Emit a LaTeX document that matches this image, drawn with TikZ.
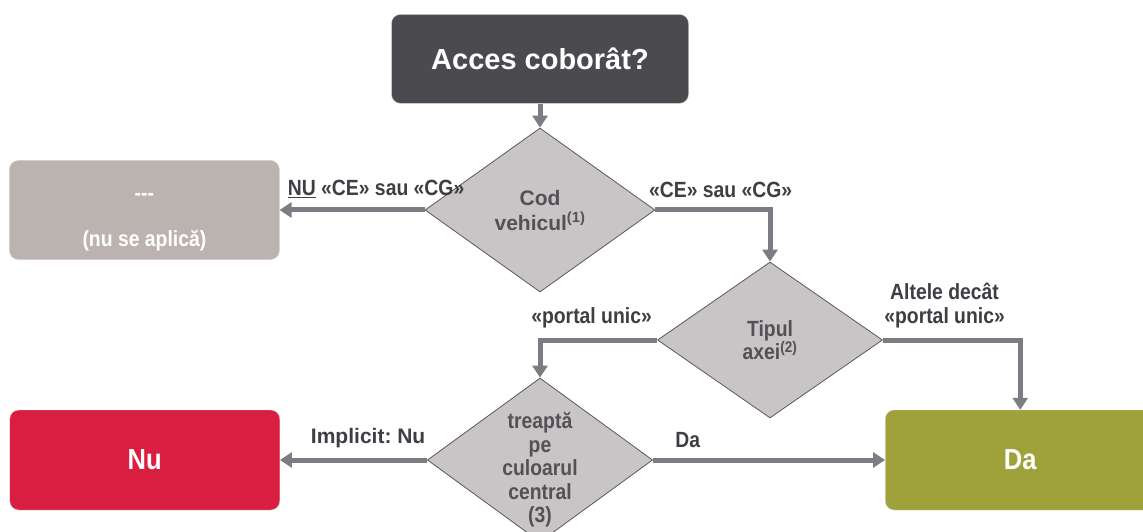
\documentclass[tikz,border=0pt]{standalone}
\usepackage{fontspec}
\setmainfont{Liberation Sans}
\newfontfamily\narrowfont{Liberation Sans}[FakeStretch=0.88]
\usetikzlibrary{shapes.geometric, arrows.meta, positioning}
\definecolor{titlegray}{HTML}{4B4A4F}
\definecolor{skipgray}{HTML}{BBB3AF}
\definecolor{diamondgray}{HTML}{C9C5C6}
\definecolor{nored}{HTML}{D91E41}
\definecolor{daolive}{HTML}{9FA23B}
\definecolor{arrowgray}{HTML}{7C7C82}
\definecolor{textgray}{HTML}{3E3E44}
\definecolor{diamondtext}{HTML}{515156}
\frenchspacing

\begin{document}
\begin{tikzpicture}[
    x=1pt, y=1pt,
    endbox/.style={draw=black!18, rounded corners=9pt, minimum width=270pt, minimum height=100pt, text=white, align=center},
    decision/.style={diamond, draw=black!65, line width=0.8pt, fill=diamondgray, inner sep=-8pt, aspect=1.4, minimum width=225pt, minimum height=160pt, align=center, text=diamondtext, font=\narrowfont\bfseries\fontsize{22}{23.5}\selectfont},
    arr/.style={draw=arrowgray, line width=5pt, -{Triangle[length=12pt, width=15pt]}},
    lbl/.style={text=textgray, font=\narrowfont\bfseries\fontsize{22}{24}\selectfont, align=center},
]
\useasboundingbox (0,0) rectangle (1143,531);

% Decisions
\node[decision, minimum width=230pt, minimum height=164pt, font=\bfseries\fontsize{21}{25}\selectfont] (cod) at (540,321) {Cod\\vehicul\textsuperscript{(1)}};
\node[decision, minimum height=156pt] (tip) at (770,191) {Tipul\\axei\textsuperscript{(2)}};
\node[decision, minimum height=164pt] (trep) at (540,71) {\rule{0pt}{36pt}treaptă\\pe\\culoarul\\central\\(3)};

% Boxes
\node[endbox, fill=titlegray, minimum width=297pt, minimum height=89pt, font=\bfseries\fontsize{29}{34}\selectfont, above=24pt of cod] (top) {Acces coborât?};
\node[endbox, fill=skipgray, minimum height=99pt, font=\narrowfont\bfseries\fontsize{22}{46}\selectfont, left=145pt of cod] (na) {\rule{0pt}{32pt}---\\(nu se aplică)};
\node[endbox, fill=nored, font=\narrowfont\bfseries\fontsize{29}{34}\selectfont, left=147pt of trep] (nu) {Nu};
\node[endbox, fill=daolive, font=\narrowfont\bfseries\fontsize{29}{34}\selectfont, right=232pt of trep] (da) {Da};

% Arrows
\draw[arr] (top) -- (cod);
\draw[arr] (cod.west) -- node[lbl, above=6pt, xshift=24pt] (lnu) {\underline{NU} «CE» sau «CG»} (na.east);
\draw[arr] (cod.east) -| node[lbl, pos=0.25, above=6pt, xshift=8pt] (lce) {«CE» sau «CG»} (tip.north);
\draw[arr] (tip.west) -| node[lbl, pos=0.25, above=6pt, xshift=-7pt] (lportal) {«portal unic»} (trep.north);
\draw[arr] (tip.east) -| node[lbl, pos=0.25, above=6pt, xshift=-7pt] (laltele) {Altele decât\\«portal unic»} (da.north);
\draw[arr] (trep.west) -- node[lbl, font=\bfseries\fontsize{21}{24}\selectfont, above=6pt, pos=0.4] (limpl) {Implicit: Nu} (nu.east);
\draw[arr] (trep.east) -- node[lbl, above=6pt, pos=0.15] (lda) {Da} (da.west);

\end{tikzpicture}
\end{document}
